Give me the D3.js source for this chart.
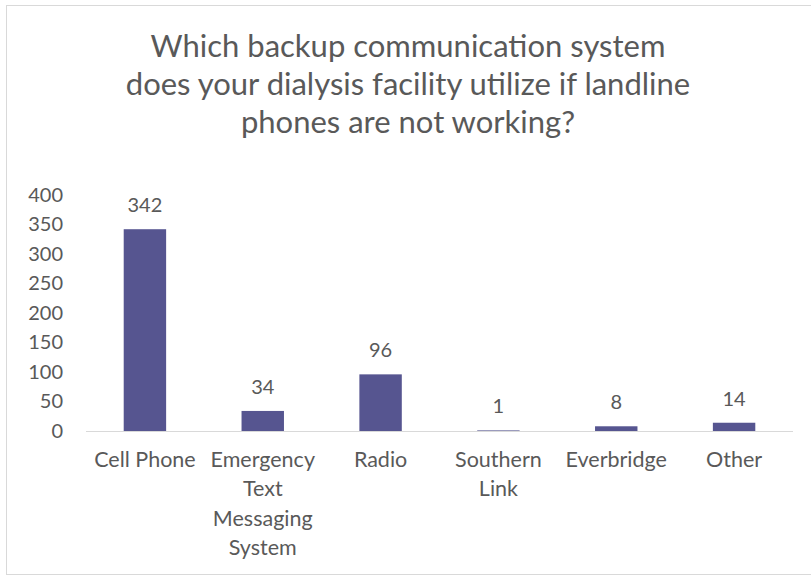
<!DOCTYPE html>
<html><head><meta charset="utf-8">
<script src="https://cdn.jsdelivr.net/npm/d3@7"></script>
<style>body{margin:0;background:#fff}svg{display:block}</style>
</head><body>
<svg id="c" width="811" height="576"></svg>
<script>
const categories = ["Cell Phone", "Emergency Text Messaging System", "Radio", "Southern Link", "Everbridge", "Other"];
const categoryLines = [["Cell Phone"], ["Emergency", "Text", "Messaging", "System"], ["Radio"], ["Southern", "Link"], ["Everbridge"], ["Other"]];
const values = [342, 34, 96, 1, 8, 14];
const yTicks = [0, 50, 100, 150, 200, 250, 300, 350, 400];
const titleLines = ["Which backup communication system", "does your dialysis facility utilize if landline", "phones are not working?"];

const svg = d3.select("#c");
const font = "Lato, 'Open Sans', sans-serif";
const txt = "#595959";

svg.append("rect").attr("x", 6.5).attr("y", 5.5).attr("width", 810).attr("height", 569)
  .attr("fill", "#fff").attr("stroke", "#d9d9d9");

svg.append("g").selectAll("text").data(titleLines).join("text")
  .attr("x", 408).attr("y", (d, i) => 57 + i * 38)
  .attr("text-anchor", "middle").attr("font-family", font).attr("font-size", 31)
  .attr("fill", txt).text(d => d);

const x = d3.scaleBand().domain(categories).range([86, 793]).paddingInner(0.64).paddingOuter(0.32);
const y = d3.scaleLinear().domain([0, 400]).range([431, 195]);

const yAxis = svg.append("g").attr("transform", "translate(69,0)")
  .call(d3.axisLeft(y).tickValues(yTicks).tickSize(0).tickPadding(0));
yAxis.select(".domain").remove();
yAxis.selectAll("text").attr("font-family", font).attr("font-size", 20).attr("fill", txt).attr("x", -6);

svg.append("g").selectAll("rect").data(values).join("rect")
  .attr("x", (d, i) => x(categories[i])).attr("width", x.bandwidth())
  .attr("y", d => y(d)).attr("height", d => y(0) - y(d)).attr("fill", "#565590");

svg.append("line").attr("x1", 86).attr("x2", 793).attr("y1", y(0) + 0.5).attr("y2", y(0) + 0.5)
  .attr("stroke", "#d9d9d9");

svg.append("g").selectAll("text").data(values).join("text")
  .attr("x", (d, i) => x(categories[i]) + x.bandwidth() / 2).attr("y", d => y(d) - 17)
  .attr("text-anchor", "middle").attr("font-family", font).attr("font-size", 20).attr("fill", txt)
  .text(d => d);

const xl = svg.append("g");
categories.forEach((c, i) => {
  const cx = x(c) + x.bandwidth() / 2;
  xl.append("text").attr("text-anchor", "middle").attr("font-family", font).attr("font-size", 21.5).attr("fill", txt)
    .selectAll("tspan").data(categoryLines[i]).join("tspan")
    .attr("x", cx).attr("y", (d, j) => 467 + j * 29.3).text(d => d);
});
</script>
</body></html>
